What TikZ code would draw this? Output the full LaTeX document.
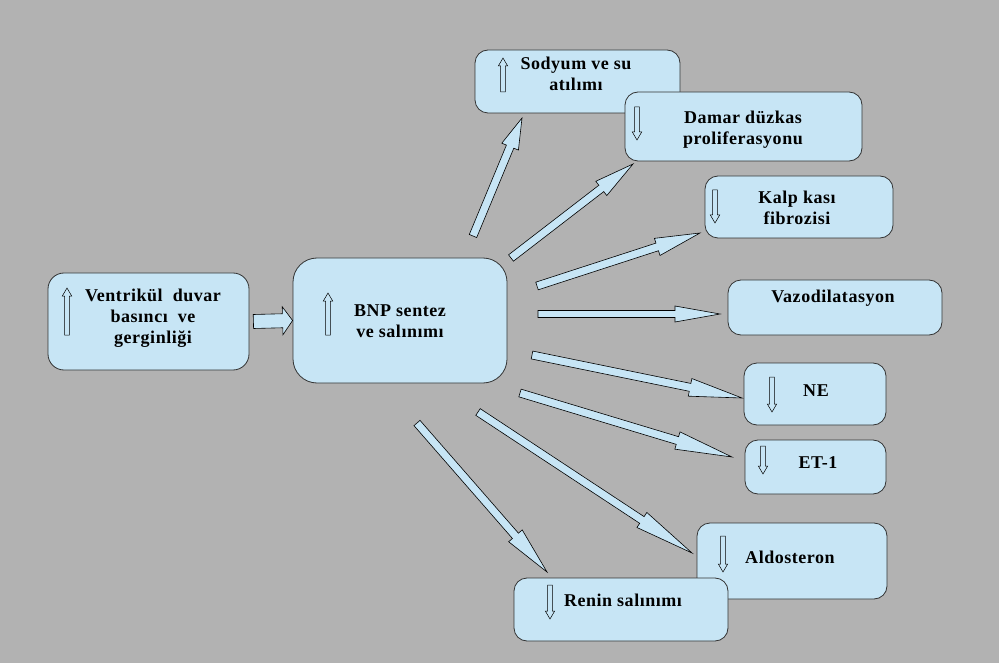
\documentclass[tikz,border=0pt]{standalone}
\usepackage{fontspec}
\newfontfamily\boxfont{Liberation Serif}[LetterSpace=3]
\usetikzlibrary{calc}

\definecolor{bggray}{RGB}{178,178,178}
\definecolor{boxblue}{RGB}{199,229,245}

\tikzset{
  box/.style={draw=black!80, fill=boxblue, line width=0.8pt, rounded corners=#1, inner sep=0pt},
  box/.default=13pt,
  lbl/.style={font=\boxfont\bfseries\fontsize{18}{21}\selectfont, align=center, inner sep=0pt},
  barrow/.style={draw=black, fill=boxblue, line width=0.6pt},
  updown/.style={draw=black, fill=boxblue, line width=0.5pt}
}

% block arrow: [style]{tail}{tip}{half shaft}{half head}{head length}
\newcommand{\blockarrow}[6][]{%
  \draw[barrow,#1] let \p1=($(#3)-(#2)$), \n1={atan2(\y1,\x1)},
      \n2={veclen(\x1,\y1)-#6} in
    ($(#2)+(\n1+90:#4pt)$) -- ($(#2)+(\n1:\n2)+(\n1+90:#4pt)$)
    -- ($(#2)+(\n1:\n2)+(\n1+90:#5pt)$) -- (#3)
    -- ($(#2)+(\n1:\n2)+(\n1-90:#5pt)$) -- ($(#2)+(\n1:\n2)+(\n1-90:#4pt)$)
    -- ($(#2)+(\n1-90:#4pt)$) -- cycle;}

\begin{document}
\begin{tikzpicture}[x=1pt,y=-1pt]
  \fill[bggray] (0,0) rectangle (999,663);

  % boxes
  \node[box=16pt, minimum width=201pt, minimum height=97pt] (vent) at (148.5,321.5) {};
  \node[box=24pt, minimum width=214pt, minimum height=125pt] (bnp) at (400,320.5) {};
  \node[box, minimum width=205pt, minimum height=63pt] (sod) at (577.5,81.5) {};
  \node[box, minimum width=237pt, minimum height=69pt] (dam) at (743.5,126.5) {};
  \node[box, minimum width=188pt, minimum height=62pt] (kalp) at (799,207) {};
  \node[box, minimum width=214pt, minimum height=55pt] (vazo) at (835,307.5) {};
  \node[box, minimum width=142pt, minimum height=62pt] (ne) at (815,394) {};
  \node[box, minimum width=141pt, minimum height=54pt] (et) at (815.5,467) {};
  \node[box, minimum width=190pt, minimum height=76pt] (aldo) at (792,561) {};
  \node[box, minimum width=214pt, minimum height=63pt] (renin) at (621,609.5) {};

  % texts
  \node[lbl] (ventL) at (153,318) {Ventrikül\ \ duvar\\ basıncı\ \ ve\\ gerginliği};
  \node[lbl] (bnpL) at (400,321) {BNP sentez\\ ve salınımı};
  \node[lbl] (sodL) at (576,74) {Sodyum ve su\\ atılımı};
  \node[lbl] (damL) at (743,130) {Damar düzkas\\ proliferasyonu};
  \node[lbl] (kalpL) at (797,208) {Kalp kası\\ fibrozisi};
  \node[lbl] (vazoL) at (833,298) {Vazodilatasyon};
  \node[lbl] (neL) at (816,391) {NE};
  \node[lbl] (etL) at (818,463) {ET-1};
  \node[lbl] (aldoL) at (790,557) {Aldosteron};
  \node[lbl] (reninL) at (623,600) {Renin salınımı};

  % up / down marks
  \blockarrow[updown]{67,335}{67,288}{2.4}{4.7}{8}
  \blockarrow[updown]{328,335}{328,293}{2.4}{4.7}{8}
  \blockarrow[updown]{503,92}{503,58}{2.4}{4.7}{8}
  \blockarrow[updown]{637,107}{637,140}{2.4}{4.7}{8}
  \blockarrow[updown]{715,190}{715,223}{2.4}{4.7}{8}
  \blockarrow[updown]{772,377}{772,412}{2.4}{4.7}{8}
  \blockarrow[updown]{763,446}{763,474}{2.4}{4.7}{8}
  \blockarrow[updown]{723,536}{723,572}{2.4}{4.7}{8}
  \blockarrow[updown]{550,585}{550,619}{2.4}{4.7}{8}

  % connectors
  \coordinate (fatS) at ($(vent.east)+(4,0)$);
  \coordinate (fatE) at (bnp.west);
  \blockarrow{fatS}{fatE}{7}{14}{10}

  \coordinate (sodS) at (473,236);   \coordinate (sodE) at (522,118);
  \coordinate (damS) at (511,258);   \coordinate (damE) at (633,164);
  \coordinate (kalpS) at (537,286);  \coordinate (kalpE) at (700,233);
  \coordinate (vazoS) at (538,314);  \coordinate (vazoE) at (720,314);
  \coordinate (neS) at (532,355);    \coordinate (neE) at (742,398);
  \coordinate (etS) at (520,393);    \coordinate (etE) at (732,457);
  \coordinate (aldoS) at (478,412);  \coordinate (aldoE) at (692,553);
  \coordinate (reninS) at (417,423); \coordinate (reninE) at (547,572);

  \blockarrow{sodS}{sodE}{4}{9}{31}
  \blockarrow{damS}{damE}{4}{9}{40}
  \blockarrow{kalpS}{kalpE}{4}{9}{45}
  \blockarrow{vazoS}{vazoE}{3.5}{8}{45}
  \blockarrow{neS}{neE}{4}{9}{53}
  \blockarrow{etS}{etE}{4}{9}{57}
  \blockarrow{aldoS}{aldoE}{4}{9}{60}
  \blockarrow{reninS}{reninE}{4}{9}{48}
\end{tikzpicture}
\end{document}
